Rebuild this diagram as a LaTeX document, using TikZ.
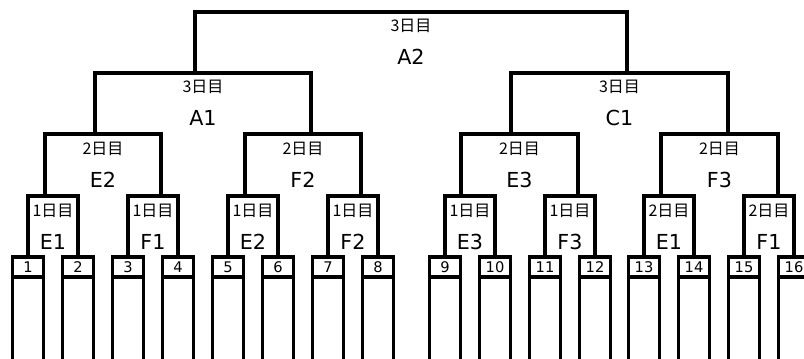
\documentclass[tikz,border=0pt]{standalone}
\usepackage{fontspec}
\setmainfont{DejaVu Sans}
\newfontfamily\jpfont{Noto Sans CJK JP}
\usetikzlibrary{calc}

\begin{document}
\begin{tikzpicture}[x=0.75pt,y=-0.75pt,line width=2.5pt]
  % Styles
  \tikzstyle{entry}=[draw,inner sep=0pt,outer sep=0pt,minimum width=23pt,
                     minimum height=15pt,font=\fontsize{11}{13}\selectfont]
  \tikzstyle{day}=[font=\jpfont\fontsize{12}{14}\selectfont]
  \tikzstyle{match}=[font=\fontsize{15.5}{18}\selectfont]

  \fill[white] (0,0) rectangle (804,358);
  \useasboundingbox (0,0) rectangle (804,358);
  \clip (0,0) rectangle (804,358);

  % Entry boxes
  \foreach \n/\x in {1/28,2/78,3/128,4/178,5/228,6/278,7/328,8/378,
                     9/445,10/495,11/545,12/595,13/644,14/694,15/744,16/794}
  {
    \node[entry] (b\n) at (\x,267) {\n};
    \draw (b\n.south west) -- ++(0,95) (b\n.south east) -- ++(0,95);
  }

  % Match points
  \foreach \mt/\x in {m1/45,m2/161,m3/245,m4/361,m5/461,m6/578,m7/661,m8/778}
    \coordinate (\mt) at (\x,196);
  \foreach \mt/\x in {n1/95,n2/311,n3/511,n4/728}
    \coordinate (\mt) at (\x,134);
  \coordinate (s1) at (195,73);
  \coordinate (s2) at (627,73);
  \coordinate (f) at (411,12);

  % First round
  \foreach \mt/\ca/\cb/\dy/\lbl in {m1/b1/b2/1/E1, m2/b3/b4/1/F1, m3/b5/b6/1/E2,
      m4/b7/b8/1/F2, m5/b9/b10/1/E3, m6/b11/b12/1/F3, m7/b13/b14/2/E1, m8/b15/b16/2/F1}
  {
    \draw (\ca.north) |- (\mt) -| (\cb.north);
    \path ($(\ca.north)!.5!(\cb.north)$) +(0,-46) node[day] (d\mt) {\dy{}日目}
                                         +(0,-15) node[match] (t\mt) {\lbl};
  }

  % Later rounds
  \foreach \mt/\ca/\cb/\dy/\lbl in {n1/m1/m2/2/E2, n2/m3/m4/2/F2, n3/m5/m6/2/E3,
      n4/m7/m8/2/F3, s1/n1/n2/3/A1, s2/n3/n4/3/C1, f/s1/s2/3/A2}
  {
    \draw (\ca) |- (\mt) -| (\cb);
    \path ($(\ca)!.5!(\cb)$) +(0,-47) node[day] (d\mt) {\dy{}日目}
                             +(0,-16) node[match] (t\mt) {\lbl};
  }
\end{tikzpicture}
\end{document}
